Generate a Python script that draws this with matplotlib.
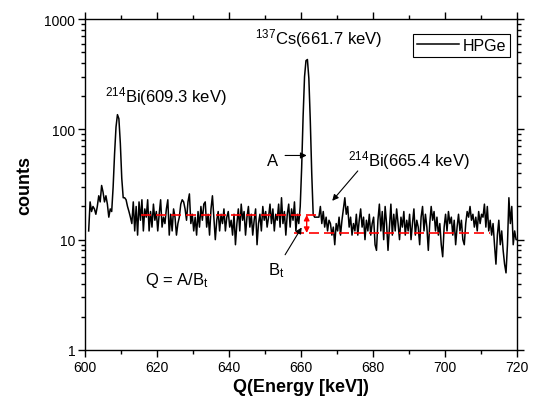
import numpy as np
import matplotlib
matplotlib.use('Agg')
import matplotlib.pyplot as plt
from matplotlib.ticker import MultipleLocator, LogLocator, NullFormatter

plt.rcParams['font.family'] = ['Liberation Sans', 'DejaVu Sans']
plt.rcParams['mathtext.default'] = 'regular'

# HPGe spectrum, 0.4 keV channels starting at 601.0 keV
e_start = 601.0
e_step = 0.4
counts = [
    12, 22, 18, 20, 19, 17, 20, 25, 22, 31,
    27, 22, 25, 21, 16, 19, 18, 30, 60, 105,
    136, 125, 75, 36, 24, 24, 23, 20, 18, 16,
    14, 22, 12, 20, 11, 22, 15, 23, 12, 19,
    16, 23, 12, 18, 13, 21, 15, 18, 12, 17,
    23, 13, 16, 14, 19, 23, 11, 17, 12, 19,
    16, 11, 14, 16, 21, 23, 22, 19, 15, 22,
    26, 14, 17, 12, 16, 11, 18, 13, 20, 15,
    21, 22, 13, 17, 11, 19, 25, 16, 10, 15,
    18, 12, 17, 14, 19, 12, 16, 18, 13, 15,
    11, 17, 9, 14, 19, 12, 21, 15, 18, 11,
    16, 20, 13, 17, 11, 15, 19, 9, 14, 17,
    12, 20, 15, 18, 13, 16, 21, 14, 19, 12,
    17, 15, 21, 13, 24, 14, 18, 11, 17, 21,
    13, 19, 15, 22, 12, 17, 14, 20, 45, 130,
    300, 420, 430, 290, 120, 40, 17, 16, 16, 16,
    16, 20, 14, 18, 13, 16, 12, 15, 14, 11,
    13, 9, 14, 12, 16, 11, 15, 19, 24, 17,
    20, 13, 16, 11, 14, 12, 17, 11, 15, 19,
    13, 16, 10, 15, 12, 17, 11, 14, 16, 9,
    8, 15, 21, 12, 18, 10, 20, 14, 8, 13,
    21, 11, 17, 12, 19, 14, 10, 16, 13, 18,
    11, 15, 12, 17, 10, 14, 19, 11, 15, 13,
    9, 16, 20, 12, 17, 13, 8, 14, 20, 15,
    18, 12, 16, 11, 14, 9, 7, 13, 17, 12,
    18, 14, 16, 11, 15, 9, 13, 17, 12, 15,
    10, 9, 14, 18, 16, 20, 15, 17, 13, 16,
    12, 18, 14, 17, 16, 21, 13, 20, 12, 15,
    11, 14, 9, 6, 11, 15, 9, 12, 8, 6,
    5, 9, 24, 14, 20, 9, 12, 10, 10,
]
energy = e_start + e_step * np.arange(len(counts))

# background levels (red dashed) and their energy ranges
bg_high = 16.8
bg_high_range = [615.6, 665.5]
bg_low = 11.5
bg_low_range = [658.0, 712.5]
bt_energy = 661.6

fig = plt.figure(figsize=(5.35, 4.10), dpi=100)
ax = fig.add_axes([0.159, 0.144, 0.807, 0.807])

ax.plot(energy, counts, color='black', lw=1.1, label='HPGe')
ax.plot(bg_high_range, [bg_high, bg_high], color='red', lw=1.2, linestyle=(0, (6, 3)))
ax.plot(bg_low_range, [bg_low, bg_low], color='red', lw=1.2, linestyle=(0, (6, 3)))
ax.annotate('', xy=(bt_energy, bg_low), xytext=(bt_energy, bg_high),
            arrowprops=dict(arrowstyle='<|-|>', color='red', lw=1.0, mutation_scale=8,
                            shrinkA=0, shrinkB=0))

ax.set_yscale('log')
ax.set_xlim(600, 720)
ax.set_ylim(1, 1000)
ax.xaxis.set_major_locator(MultipleLocator(20))
ax.xaxis.set_minor_locator(MultipleLocator(10))
ax.yaxis.set_major_locator(LogLocator(base=10, numticks=10))
ax.yaxis.set_minor_locator(LogLocator(base=10, subs=np.arange(2, 10), numticks=10))
ax.yaxis.set_minor_formatter(NullFormatter())
ax.set_yticks([1, 10, 100, 1000])
ax.set_yticklabels(['1', '10', '100', '1000'])
ax.tick_params(which='both', direction='out', top=True, right=True, labelsize=10, width=1.0)
ax.tick_params(which='major', length=5, pad=2)
ax.tick_params(which='minor', length=3)
for s in ax.spines.values():
    s.set_linewidth(1.0)

ax.set_xlabel('Q(Energy [keV])', fontsize=13, fontweight='bold', labelpad=3)
ax.set_ylabel('counts', fontsize=13, fontweight='bold', labelpad=8)

# peak labels
ax.text(605.6, 181, r'$^{214}$Bi(609.3 keV)', fontsize=12, va='baseline')
ax.text(647.2, 607, r'$^{137}$Cs(661.7 keV)', fontsize=12, va='baseline')
ax.text(673.0, 47.6, r'$^{214}$Bi(665.4 keV)', fontsize=12, va='baseline')
ax.text(650.6, 48, 'A', fontsize=12, va='baseline')
ax.text(650.8, 4.9, r'B$_t$', fontsize=12, va='baseline')
ax.text(616.7, 3.97, r'Q = A/B$_t$', fontsize=12, va='baseline')

arrow = dict(arrowstyle='-|>', color='black', lw=0.8, mutation_scale=9, shrinkA=0, shrinkB=0)
ax.annotate('', xy=(661.6, 58), xytext=(655.6, 58), arrowprops=arrow)
ax.annotate('', xy=(668.7, 22.5), xytext=(675.8, 42), arrowprops=arrow)
ax.annotate('', xy=(660.2, 12.9), xytext=(655.6, 7.3), arrowprops=arrow)

leg = ax.legend(loc='upper right', bbox_to_anchor=(0.985, 0.955), fontsize=11.5,
                fancybox=False, framealpha=1, edgecolor='black', handlelength=2.6,
                borderpad=0.25, handletextpad=0.25, borderaxespad=0)
leg.get_frame().set_linewidth(0.8)

fig.savefig('out.png', dpi=100)
